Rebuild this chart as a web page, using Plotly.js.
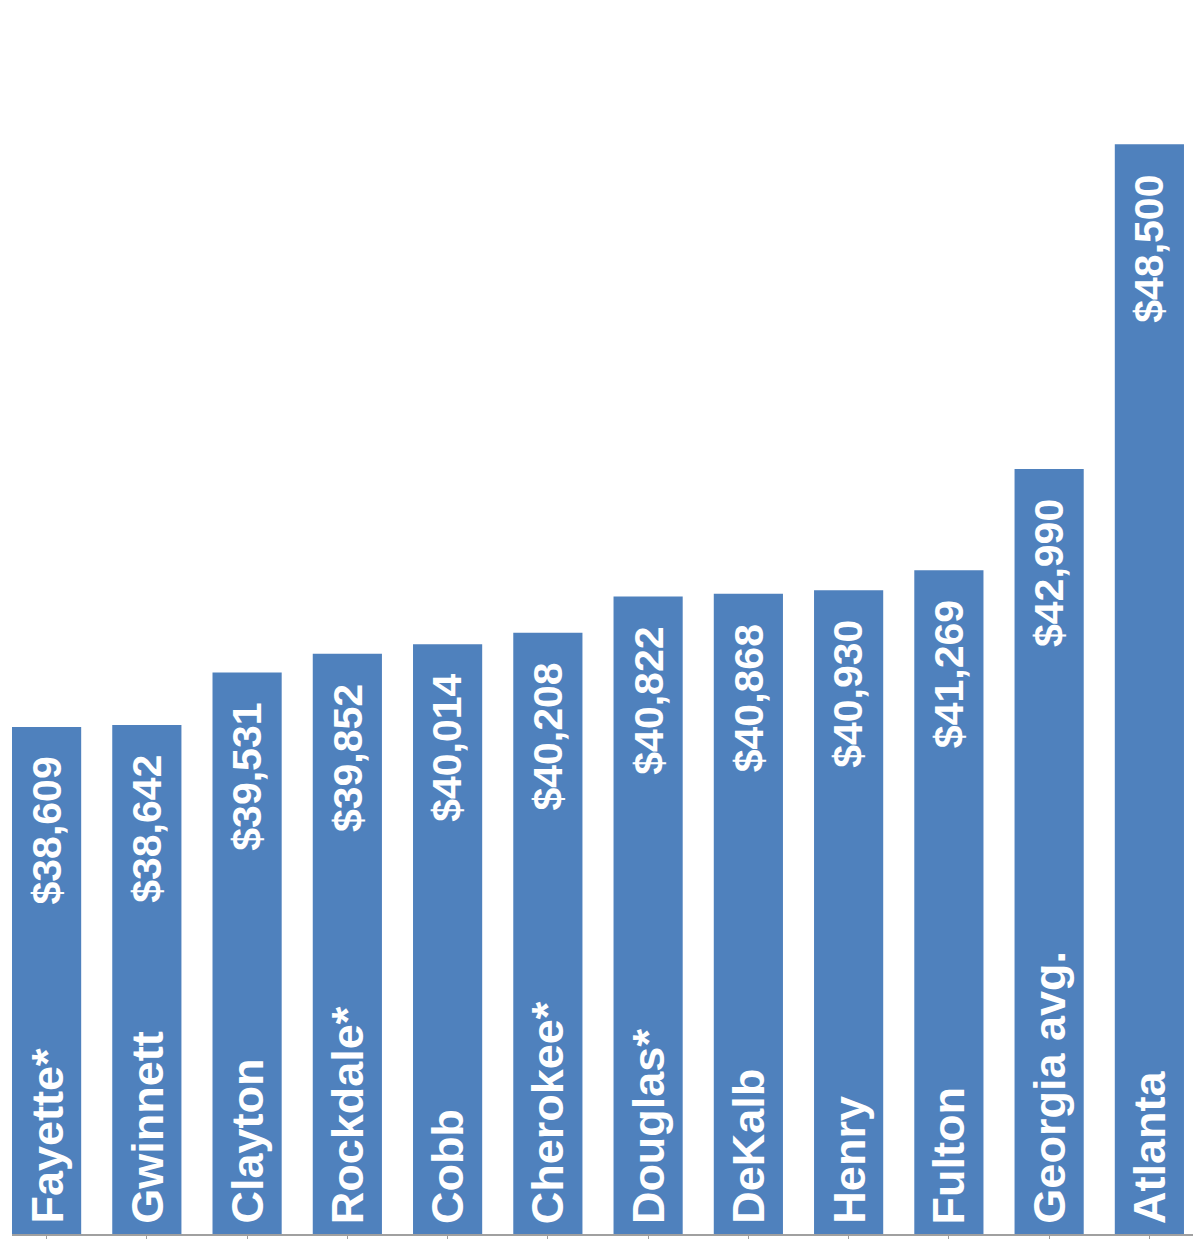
<!DOCTYPE html>
<html>
<head>
<meta charset="utf-8">
<script src="https://cdn.plot.ly/plotly-3.0.1.min.js"></script>
<style>
  html, body { margin: 0; padding: 0; background: #ffffff; }
  #chart { width: 1200px; height: 1243px; }
</style>
</head>
<body>
<div id="chart"></div>
<script>
// counties, ordered as in the picture
var counties = ["Fayette*", "Gwinnett", "Clayton", "Rockdale*", "Cobb", "Cherokee*",
                "Douglas*", "DeKalb", "Henry", "Fulton", "Georgia avg.", "Atlanta"];
var salaries = [38609, 38642, 39531, 39852, 40014, 40208,
                40822, 40868, 40930, 41269, 42990, 48500];
var salary_labels = ["$38,609", "$38,642", "$39,531", "$39,852", "$40,014", "$40,208",
                     "$40,822", "$40,868", "$40,930", "$41,269", "$42,990", "$48,500"];

var bar_color = "#4f81bd";
var font_family = "'Liberation Sans', Arial, sans-serif";
var value_font = { family: font_family, size: 41, color: "#ffffff", weight: "bold" };
var name_font = { family: font_family, size: 45, color: "#ffffff", weight: "bold" };

var annotations = [];
for (var i = 0; i < counties.length; i++) {
  // value near the top of the bar
  annotations.push({
    x: counties[i], y: salaries[i], xref: "x", yref: "y",
    text: salary_labels[i], showarrow: false, textangle: -90,
    xanchor: "center", yanchor: "top", yshift: -28,
    font: value_font
  });
  // name at the foot of the bar
  annotations.push({
    x: counties[i], y: 30000, xref: "x", yref: "y",
    text: counties[i], showarrow: false, textangle: -90,
    xanchor: "center", yanchor: "bottom", yshift: 8,
    font: name_font
  });
}

var layout = {
  width: 1200,
  height: 1243,
  paper_bgcolor: "#ffffff",
  plot_bgcolor: "#ffffff",
  showlegend: false,
  bargap: 0.31,
  margin: { l: 12, r: 7, t: 56, b: 9 },
  xaxis: {
    type: "category",
    range: [-0.345, 11.435],
    showticklabels: false,
    showgrid: false,
    zeroline: false,
    showline: true,
    linecolor: "#a0a0a0",
    linewidth: 2,
    ticks: "outside",
    ticklen: 3,
    tickwidth: 1,
    tickcolor: "#a0a0a0",
    fixedrange: true
  },
  yaxis: {
    range: [30000, 50000],
    visible: false,
    showgrid: false,
    zeroline: false,
    fixedrange: true
  },
  annotations: annotations
};

var config = {
  displayModeBar: false, // no toolbar in the picture
  staticPlot: true
};

Plotly.newPlot("chart", [{
  type: "bar",
  x: counties,
  y: salaries,
  marker: { color: bar_color },
  hoverinfo: "none"
}], layout, config);
</script>
</body>
</html>
